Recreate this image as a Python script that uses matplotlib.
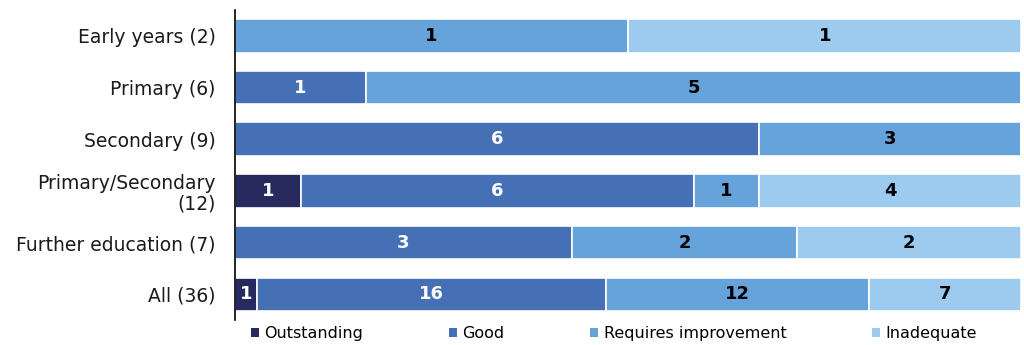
import numpy as np
import matplotlib.pyplot as plt
from matplotlib.patches import Patch

plt.rcParams['font.family'] = ['DejaVu Sans']

categories = ['Early years (2)', 'Primary (6)', 'Secondary (9)',
              'Primary/Secondary\n(12)', 'Further education (7)', 'All (36)']
grades = ['Outstanding', 'Good', 'Requires improvement', 'Inadequate']
outstanding = [0, 0, 0, 1, 0, 1]
good = [0, 1, 6, 6, 3, 16]
requires_improvement = [1, 5, 3, 1, 2, 12]
inadequate = [1, 0, 0, 4, 2, 7]

colours = ['#272a5e', '#4570b6', '#66a3da', '#9ccbef']
text_colours = ['white', 'white', 'black', 'black']

counts = np.array([outstanding, good, requires_improvement, inadequate], dtype=float)
totals = counts.sum(axis=0)
shares = counts / totals

fig = plt.figure(figsize=(10.24, 3.45), dpi=100)
ax = fig.add_axes([0.2295, 0.072, 0.768, 0.899])

y = np.arange(len(categories))
left = np.zeros(len(categories))
for i, grade in enumerate(grades):
    bars = ax.barh(y, shares[i], left=left, height=0.65, color=colours[i],
                   edgecolor='white', linewidth=1.2, label=grade)
    for j, b in enumerate(bars):
        if counts[i, j] > 0:
            ax.text(left[j] + shares[i, j] / 2, y[j], str(int(counts[i, j])),
                    ha='center', va='center', fontsize=13, fontweight='bold',
                    color=text_colours[i])
    left += shares[i]

ax.set_xlim(0, 1)
ax.set_ylim(len(categories) - 0.5, -0.5)
ax.set_yticks(y)
ax.set_yticklabels(categories, fontsize=13.5, color='#1a1a1a', linespacing=1.1)
ax.tick_params(axis='y', length=0, pad=14)
ax.set_xticks([])
for side in ['top', 'right', 'bottom']:
    ax.spines[side].set_visible(False)
ax.spines['left'].set_color('black')
ax.spines['left'].set_linewidth(1.2)

handles = [Patch(facecolor=c, edgecolor='none') for c in colours]
fig.legend(handles, grades, loc='center left', bbox_to_anchor=(0.245, 0.033),
           ncol=4, frameon=False, fontsize=11.5, handlelength=0.5, handleheight=0.5,
           handletextpad=0.35, columnspacing=5.35, borderaxespad=0, borderpad=0)

fig.savefig('out.png', dpi=100)
